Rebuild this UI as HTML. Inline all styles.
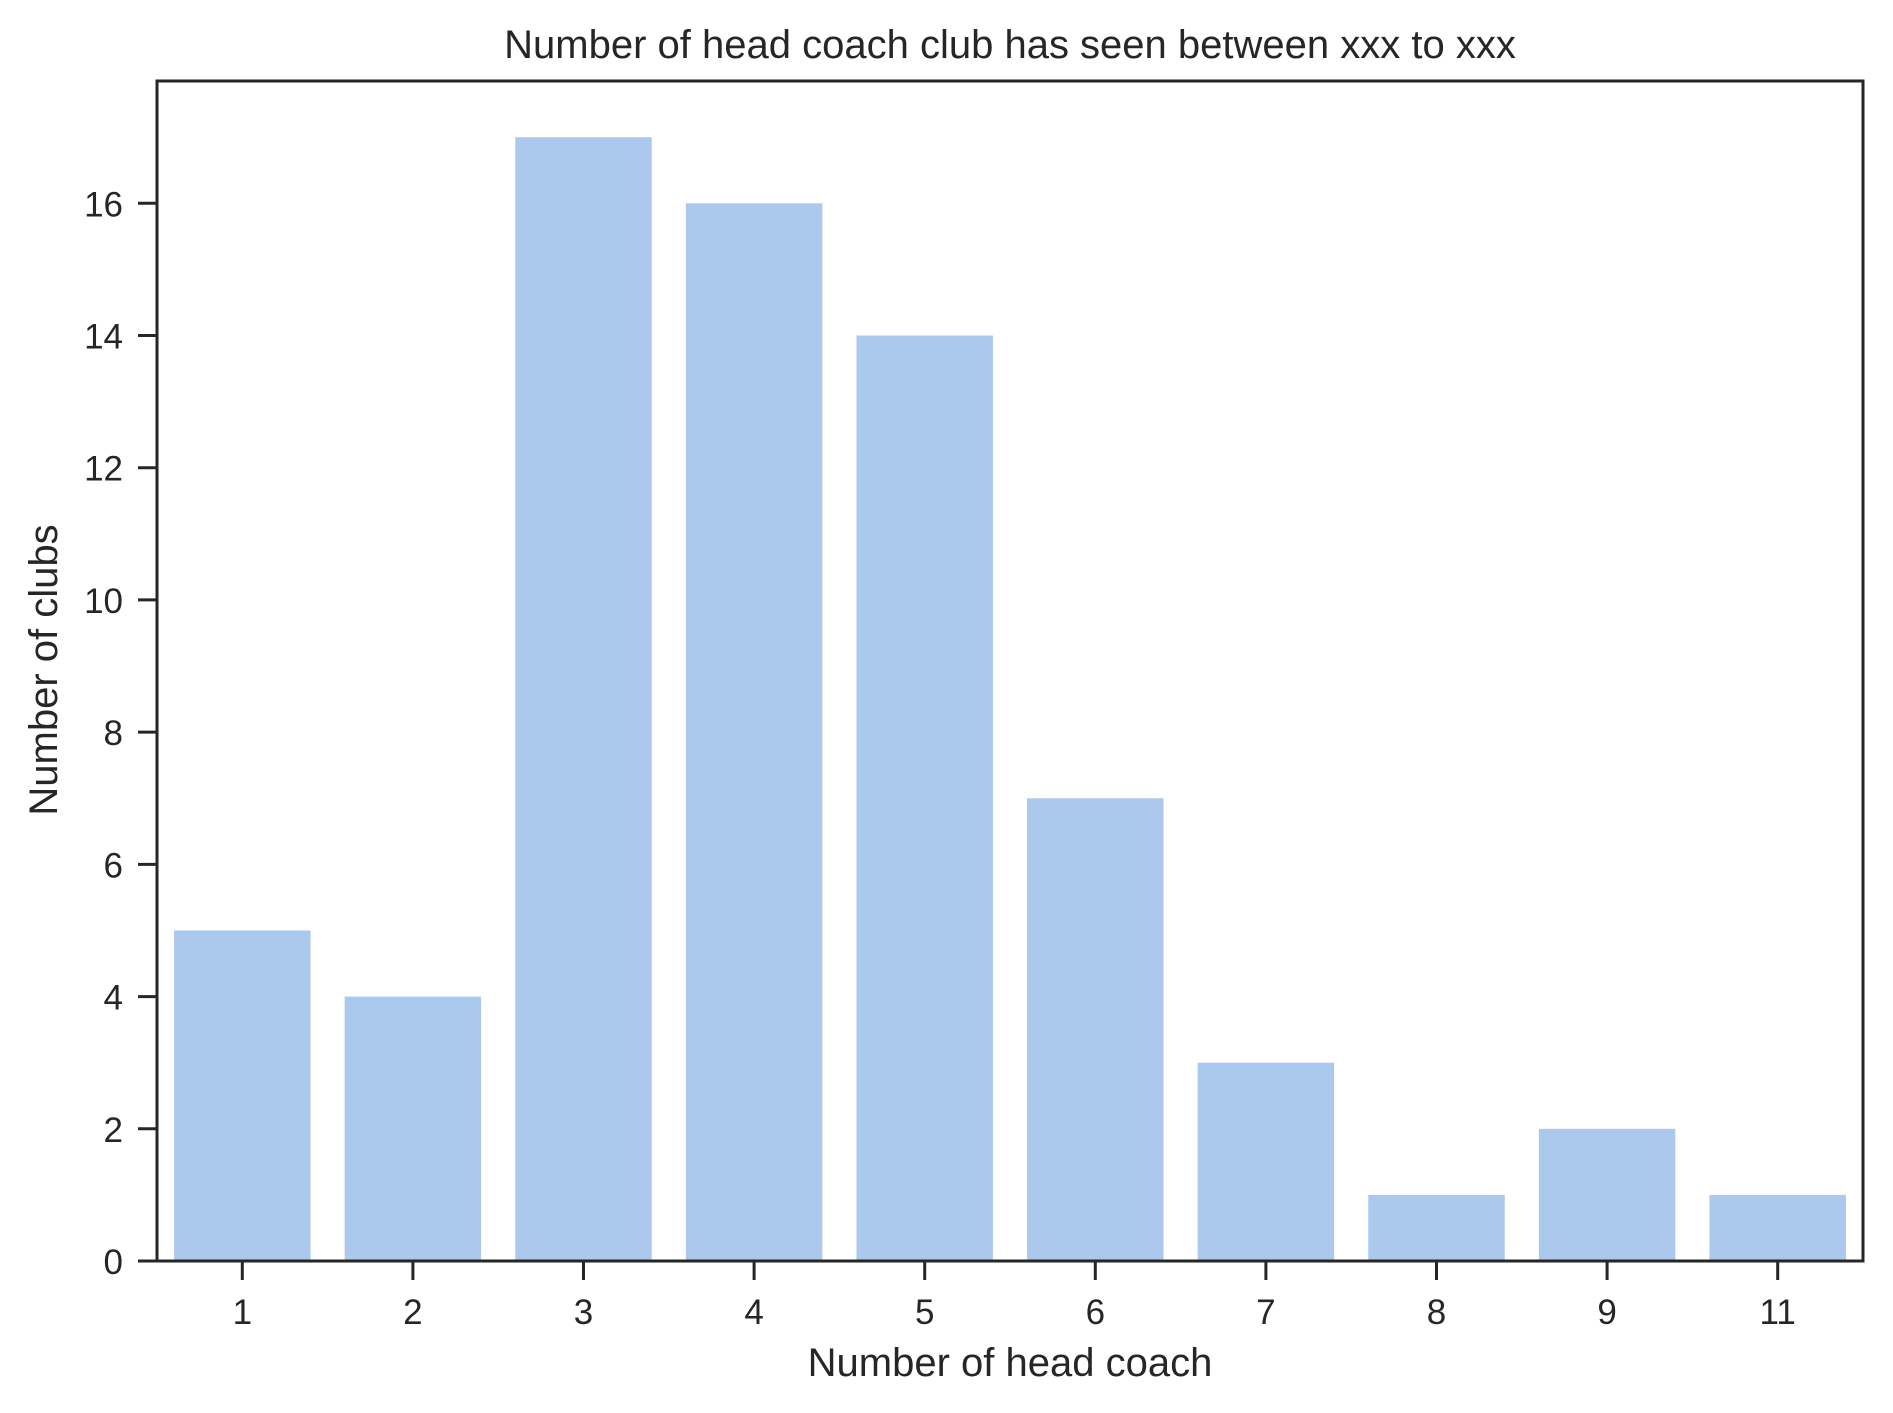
<!DOCTYPE html>
<html><head><meta charset="utf-8"><style>
body{margin:0;background:#fff;}
svg{display:block;font-family:"Liberation Sans",Arial,sans-serif;}
</style></head><body>
<svg id="chart" width="1893" height="1413">
<text x="1010" y="58" font-size="40" text-anchor="middle" fill="#262626">Number of head coach club has seen between xxx to xxx</text>
<g id="bars"></g>
<g id="xt"></g><g id="yt"></g>
<rect x="157" y="81" width="1706" height="1180" fill="none" stroke="#262626" stroke-width="3"/>
<text x="1010" y="1376" font-size="40" text-anchor="middle" fill="#262626">Number of head coach</text>
<text transform="translate(57,670) rotate(-90)" font-size="40" text-anchor="middle" fill="#262626">Number of clubs</text>
</svg>
<script>
const categories=["1","2","3","4","5","6","7","8","9","11"];
const values=[5,4,17,16,14,7,3,1,2,1];
const yTicks=[0,2,4,6,8,10,12,14,16];
const L=157,R=1863,T=81,B=1261,yMax=17.85;
const ns="http://www.w3.org/2000/svg";
const n=categories.length,bw=(R-L)/n;
const x=i=>L+bw*(i+0.5);
const y=v=>B-(v/yMax)*(B-T);
function mk(t,a){const e=document.createElementNS(ns,t);for(const k in a)e.setAttribute(k,a[k]);return e;}
const bars=document.getElementById('bars'),xt=document.getElementById('xt'),yt=document.getElementById('yt');
values.forEach((v,i)=>{
 const r=mk('rect',{x:x(i)-bw*0.4,y:y(v),width:bw*0.8,height:B-y(v),fill:'#abc9ec'});
 
 
 bars.appendChild(r);
});
categories.forEach((c,i)=>{
 const l=mk('line',{x1:x(i),x2:x(i),y1:B,y2:B+19,stroke:'#262626','stroke-width':3});
 
 
 xt.appendChild(l);
 const t=mk('text',{x:x(i),y:B+63,'font-size':35,'text-anchor':'middle',fill:'#262626'});
 t.textContent=c;
 
 
 xt.appendChild(t);
});
yTicks.forEach(v=>{
 const l=mk('line',{x1:L-19,x2:L,y1:y(v),y2:y(v),stroke:'#262626','stroke-width':3});
 
 
 yt.appendChild(l);
 const t=mk('text',{x:L-34,y:y(v)+13,'font-size':35,'text-anchor':'end',fill:'#262626'});
 t.textContent=v;
 
 
 yt.appendChild(t);
});
</script>
</body></html>
